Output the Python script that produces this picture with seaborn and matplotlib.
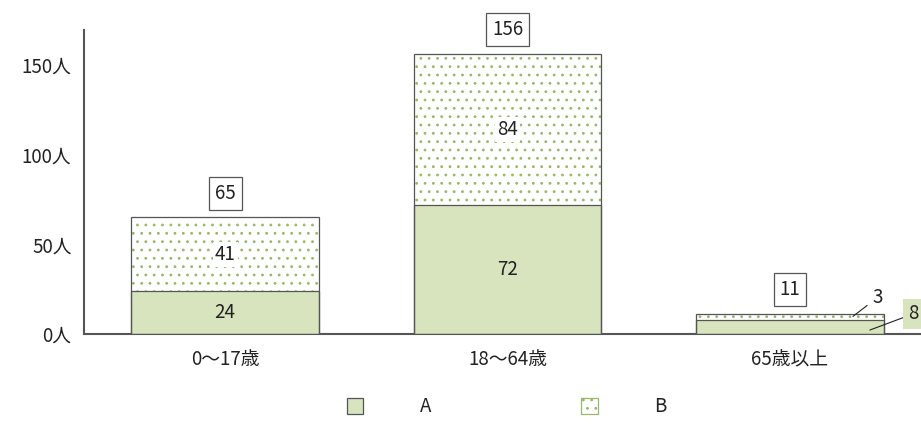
import matplotlib
matplotlib.use("Agg")
import matplotlib.pyplot as plt
from matplotlib.patches import Patch
import seaborn as sns
import pandas as pd

categories = ["0～17歳", "18～64歳", "65歳以上"]
series_a = [24, 72, 8]
series_b = [41, 84, 3]
totals = [a + b for a, b in zip(series_a, series_b)]
ytick_values = [0, 50, 100, 150]
ytick_labels = ["0人", "50人", "100人", "150人"]
legend_labels = ["A", "B"]

sns.set_theme(style="white")
plt.rcParams['font.family'] = ['Noto Sans CJK JP', 'DejaVu Sans']
plt.rcParams['hatch.linewidth'] = 0.8

GREEN_FILL = "#d7e4bd"
DOT = "#98b868"
EDGE = "#555555"
TXT = "#222222"
FS = 13.5

df = pd.DataFrame({"cat": categories, "A": series_a, "B": series_b, "total": totals})

fig = plt.figure(figsize=(9.21, 4.32), dpi=100)
ax = fig.add_axes([0.0912, 0.2269, 0.9088, 0.7037])

# B layer (dotted) drawn as total height
sns.barplot(data=df, x="cat", y="total", ax=ax, color="white", width=0.665,
            edgecolor=DOT, linewidth=0, hatch="..", saturation=1, zorder=2)
# A layer
sns.barplot(data=df, x="cat", y="A", ax=ax, color=GREEN_FILL, width=0.665,
            edgecolor=EDGE, linewidth=0.9, saturation=1, zorder=3)
# outline of total
sns.barplot(data=df, x="cat", y="total", ax=ax, fill=False, width=0.665,
            edgecolor=EDGE, linewidth=0.9, zorder=4)

ax.set_ylim(0, 169.5)
ax.set_xlim(-0.5, 2.464)
ax.set_xlabel("")
ax.set_ylabel("")
ax.set_yticks(ytick_values)
ax.set_yticklabels(ytick_labels, fontsize=FS, color=TXT)
ax.set_xticks(range(len(categories)))
ax.set_xticklabels(categories, fontsize=FS, color=TXT)
ax.tick_params(axis="x", which="major", length=0, pad=11)
ax.set_xticks([0.5, 1.5], minor=True)
ax.tick_params(axis="x", which="minor", direction="in", length=6, width=1, color=EDGE)
ax.tick_params(axis="y", direction="in", length=6, width=1, color=EDGE, pad=9)

for s in ["top", "right"]:
    ax.spines[s].set_visible(False)
for s in ["left", "bottom"]:
    ax.spines[s].set_color(EDGE)
    ax.spines[s].set_linewidth(1.5)

# inner labels
for i in range(2):
    ax.text(i, series_a[i] / 2, str(series_a[i]), ha="center", va="center",
            fontsize=FS, color=TXT, zorder=6)
    ax.text(i, series_a[i] + series_b[i] / 2, str(series_b[i]), ha="center", va="center",
            fontsize=FS, color=TXT, zorder=6,
            bbox=dict(boxstyle="square,pad=0.1", fc="white", ec="none"))

# totals in boxes
for i, t in enumerate(totals):
    ax.annotate(str(t), xy=(i, t), xytext=(0, 17.5), textcoords="offset points",
                ha="center", va="center", fontsize=FS, color=TXT, annotation_clip=False,
                bbox=dict(boxstyle="square,pad=0.32", fc="white", ec=EDGE, lw=0.9), zorder=6)

# leader labels for third category
ax.annotate(str(series_b[2]), xy=(2.223, totals[2] - 1.2), xytext=(2.311, 20.5),
            ha="center", va="center", fontsize=FS, color=TXT, annotation_clip=False,
            arrowprops=dict(arrowstyle="-", color=TXT, lw=0.8, shrinkA=2, shrinkB=0), zorder=6)
ax.annotate(str(series_a[2]), xy=(2.283, 2.2), xytext=(2.436, 11.2),
            ha="center", va="center", fontsize=FS, color=TXT, annotation_clip=False,
            bbox=dict(boxstyle="square,pad=0.25", fc=GREEN_FILL, ec="none"),
            arrowprops=dict(arrowstyle="-", color=TXT, lw=0.8, shrinkA=0, shrinkB=0), zorder=6)

handles = [Patch(facecolor=GREEN_FILL, edgecolor=EDGE, lw=0.9),
           Patch(facecolor="white", edgecolor=DOT, hatch="..", lw=0.9)]
leg = fig.legend(handles, legend_labels, loc="center", bbox_to_anchor=(0.55, 0.058),
                 ncol=2, frameon=False, fontsize=FS, handlelength=0.9, handleheight=0.9,
                 handletextpad=3.0, columnspacing=8.0)
for t in leg.get_texts():
    t.set_color(TXT)

fig.savefig("out.png", dpi=100)
